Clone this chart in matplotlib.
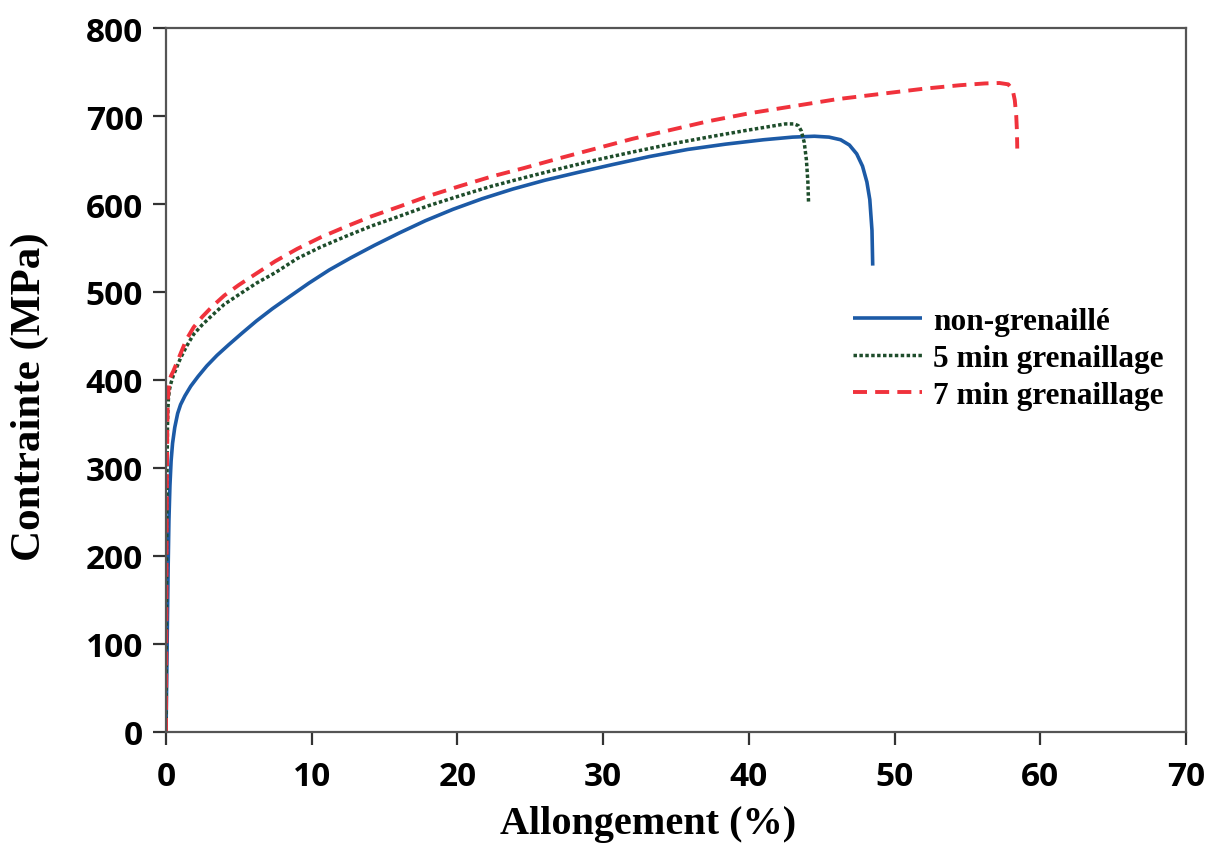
import matplotlib
matplotlib.use("Agg")
import matplotlib.pyplot as plt

# Tensile curves: elongation (%) vs stress (MPa)
labels = ["non-grenaillé", "5 min grenaillage", "7 min grenaillage"]

x_ref = [0, 0.05, 0.1, 0.15, 0.2, 0.27, 0.35, 0.45, 0.6, 0.8, 1.0, 1.3, 1.7, 2.2,
         2.8, 3.5, 4.3, 5.2, 6.2, 7.3, 8.5, 9.8, 11.2, 12.7, 14.3, 16.0, 17.8,
         19.7, 21.7, 23.8, 26.0, 28.3, 30.7, 33.2, 35.8, 38.4, 41.0, 43.0, 44.5,
         45.5, 46.3, 46.9, 47.4, 47.8, 48.1, 48.3, 48.45, 48.5]
s_ref = [0, 60, 130, 190, 240, 280, 308, 328, 346, 362, 372, 382, 393, 404,
         416, 428, 440, 453, 467, 481, 495, 510, 525, 539, 553, 567, 581,
         594, 606, 617, 627, 636, 645, 654, 662, 668, 673, 676, 677,
         676, 673, 667, 657, 643, 625, 605, 570, 530]

x_5min = [0, 0.02, 0.04, 0.06, 0.08, 0.1, 0.13, 0.17, 0.25, 0.35, 0.5, 0.7, 1.0,
          1.4, 1.9, 2.5, 3.2, 4.0, 5.0, 6.2, 7.5, 9.0, 10.6, 12.3, 14.1, 16.0,
          18.0, 20.1, 22.3, 24.6, 27.0, 29.5, 32.0, 34.6, 37.2, 39.6, 41.4, 42.5,
          43.1, 43.4, 43.6, 43.8, 43.95, 44.05, 44.1]
s_5min = [0, 100, 190, 260, 310, 345, 366, 380, 390, 397, 405, 413, 425,
          438, 452, 463, 474, 486, 497, 510, 522, 538, 551, 563, 575, 586,
          598, 609, 620, 630, 640, 650, 659, 668, 676, 683, 688, 691,
          691, 689, 683, 670, 650, 625, 600]

x_7min = [0, 0.02, 0.04, 0.06, 0.08, 0.1, 0.13, 0.18, 0.25, 0.35, 0.5, 0.7, 1.0,
          1.4, 1.9, 2.5, 3.2, 4.0, 5.0, 6.2, 7.5, 9.0, 10.6, 12.3, 14.1, 16.0,
          18.0, 20.1, 22.3, 24.6, 27.0, 29.5, 32.0, 34.6, 37.2, 40.0, 43.0, 46.0,
          49.0, 52.0, 54.5, 56.2, 57.2, 57.8, 58.1, 58.25, 58.35, 58.4, 58.42]
s_7min = [0, 100, 200, 280, 330, 360, 378, 390, 400, 405, 410, 418, 430,
          446, 460, 472, 484, 496, 508, 521, 535, 549, 562, 574, 586, 597,
          609, 620, 631, 641, 652, 663, 674, 684, 694, 703, 711, 719,
          725, 731, 735, 737, 737.5, 736, 730, 718, 700, 682, 663]

x_ticks = [0, 10, 20, 30, 40, 50, 60, 70]
y_ticks = [0, 100, 200, 300, 400, 500, 600, 700, 800]

fig = plt.figure(figsize=(12.19, 8.45), dpi=100)
ax = fig.add_axes([166 / 1219, 1 - 733 / 845, 1020 / 1219, 704 / 845])

blue = "#1c5aa6"
green = "#1e4d2b"
red = "#f0323c"

ax.plot(x_ref, s_ref, color=blue, lw=2.6, solid_capstyle="butt",
        solid_joinstyle="round", label=labels[0])
ax.plot(x_5min, s_5min, color=green, lw=2.5, dashes=(1.0, 0.7),
        dash_capstyle="butt", label=labels[1])
ax.plot(x_7min, s_7min, color=red, lw=2.8, dashes=(3.6, 2.1),
        dash_capstyle="butt", label=labels[2])

ax.set_xlim(0, 70)
ax.set_ylim(0, 800)
ax.set_xticks(x_ticks)
ax.set_yticks(y_ticks)

spine_col = "#555555"
for sp in ax.spines.values():
    sp.set_color(spine_col)
    sp.set_linewidth(1.6)

ax.tick_params(axis="both", direction="out", length=9.5, width=1.6, color="#333333")
ax.tick_params(axis="y", pad=7)
ax.tick_params(axis="x", pad=11)

tick_font = dict(family="Open Sans", weight="bold")
ax.set_yticklabels([str(v) for v in y_ticks], fontsize=24, **tick_font)
ax.set_xticklabels([str(v) for v in x_ticks], fontsize=24, **tick_font)

ax.set_xlabel("Allongement (%)", family="Liberation Serif", weight="bold", fontsize=29)
ax.set_ylabel("Contrainte (MPa)", family="Liberation Serif", weight="bold", fontsize=31)
ax.xaxis.set_label_coords((648 - 166) / 1020, (733 - 806) / 704)
ax.yaxis.set_label_coords((49 - 166) / 1020, (733 - 397) / 704)

leg = ax.legend(loc="upper left", bbox_to_anchor=((853 - 166) / 1020, (733 - 308) / 704),
                frameon=False, borderpad=0, borderaxespad=0,
                handlelength=2.2, handletextpad=0.35, labelspacing=0.25,
                prop=dict(family="Liberation Serif", weight="bold", size=22.5))

fig.savefig("out.png", dpi=100)
